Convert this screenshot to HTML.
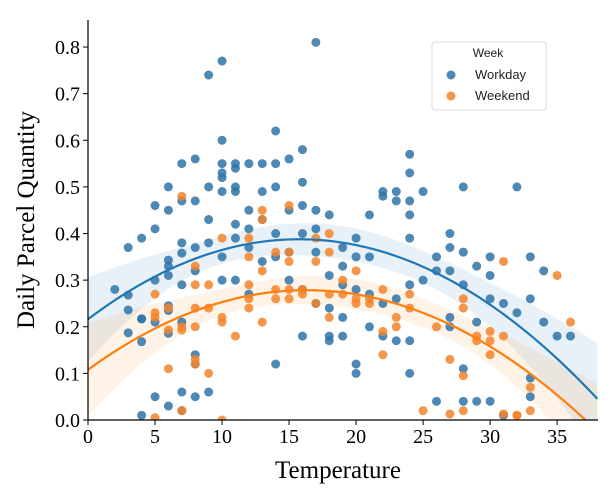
<!DOCTYPE html>
<html><head><meta charset="utf-8"><style>
body{margin:0;background:#fff;}
svg{display:block;}
.serif{font-family:"Liberation Serif",serif;}
.sans{font-family:"Liberation Sans",sans-serif;}
</style></head><body>
<svg id="chart" width="615" height="500" xmlns="http://www.w3.org/2000/svg">
<defs><clipPath id="plotclip"><rect x="88" y="20" width="510" height="400"/></clipPath></defs>
<g id="bands" clip-path="url(#plotclip)"></g>
<g id="points" clip-path="url(#plotclip)"></g>
<g id="lines" clip-path="url(#plotclip)"></g>
<g id="axes"></g>
<g>
<rect x="432" y="42" width="114" height="68" rx="3" fill="#fff" fill-opacity="0.8" stroke="#ddd"/>
<text class="sans" x="488" y="57" font-size="12" text-anchor="middle" fill="#222">Week</text>
<g><circle cx="451" cy="75" r="4.5" fill="#2f74a8" fill-opacity="0.85"/><text class="sans" x="475" y="79" font-size="13" fill="#222">Workday</text></g>
<g><circle cx="451" cy="96" r="4.5" fill="#f5842a" fill-opacity="0.85"/><text class="sans" x="475" y="100" font-size="13" fill="#222">Weekend</text></g>
</g>
</svg>
<script>
const xTicks=[0,5,10,15,20,25,30,35];
const yTicks=[0.0,0.1,0.2,0.3,0.4,0.5,0.6,0.7,0.8];
const workdayTemp=[2,3,3,3,3,4,4,4,4,5,5,5,5,5,4,6,6,6,6,6,6,6,6,6,7,7,7,7,7,7,7,7,8,8,8,8,8,8,8,9,9,9,9,9,10,10,10,10,10,10,10,10,11,11,11,11,11,11,11,12,12,12,12,12,13,13,13,13,14,14,14,14,14,14,15,15,15,15,16,16,16,16,16,16,17,17,17,17,17,18,18,18,18,18,19,19,19,19,19,20,20,20,20,20,21,21,21,21,22,22,22,22,23,23,23,23,24,24,24,24,24,24,24,24,25,25,26,26,26,27,27,27,27,27,28,28,28,28,28,29,29,29,30,30,30,30,31,31,32,32,33,33,33,33,34,34,35,36];
const workdayQty=[0.28,0.37,0.268,0.236,0.187,0.39,0.217,0.217,0.168,0.46,0.41,0.3,0.21,0.05,0.01,0.5,0.45,0.343,0.33,0.31,0.245,0.235,0.186,0.03,0.55,0.47,0.38,0.358,0.29,0.21,0.06,0.02,0.56,0.47,0.37,0.32,0.14,0.12,0.05,0.74,0.5,0.43,0.38,0.06,0.77,0.6,0.55,0.53,0.52,0.49,0.35,0.3,0.55,0.54,0.5,0.49,0.42,0.39,0.3,0.55,0.45,0.41,0.37,0.27,0.55,0.49,0.43,0.34,0.62,0.55,0.5,0.4,0.35,0.12,0.56,0.45,0.36,0.3,0.58,0.51,0.46,0.4,0.28,0.18,0.81,0.45,0.41,0.36,0.25,0.44,0.31,0.24,0.18,0.17,0.37,0.29,0.33,0.22,0.18,0.39,0.35,0.28,0.12,0.1,0.44,0.35,0.27,0.2,0.49,0.48,0.25,0.18,0.49,0.47,0.26,0.17,0.57,0.53,0.47,0.44,0.39,0.29,0.17,0.1,0.49,0.3,0.35,0.32,0.04,0.4,0.37,0.32,0.22,0.2,0.5,0.36,0.29,0.11,0.04,0.33,0.21,0.04,0.35,0.31,0.26,0.04,0.25,0.01,0.5,0.23,0.35,0.26,0.09,0.05,0.32,0.21,0.18,0.18];
const weekendTemp=[5,5,5,5,6,6,6,7,7,7,7,8,8,8,8,8,8,9,9,9,10,10,10,10,11,12,12,12,12,12,13,13,13,13,14,14,14,15,15,15,15,15,16,16,17,17,17,18,18,18,18,19,19,20,20,20,21,21,22,22,22,23,23,24,24,25,26,27,27,28,28,28,28,29,29,30,30,30,31,31,31,32,32,33,33,35,36];
const weekendQty=[0.27,0.23,0.22,0.005,0.24,0.193,0.11,0.48,0.2,0.193,0.02,0.2,0.33,0.24,0.13,0.12,0.29,0.29,0.24,0.1,0.39,0.22,0.21,0.0,0.18,0.39,0.35,0.29,0.26,0.24,0.45,0.43,0.32,0.21,0.36,0.28,0.26,0.46,0.26,0.28,0.34,0.36,0.28,0.27,0.39,0.34,0.25,0.36,0.4,0.27,0.22,0.3,0.27,0.25,0.32,0.26,0.25,0.26,0.19,0.14,0.28,0.2,0.22,0.27,0.24,0.02,0.2,0.13,0.013,0.26,0.24,0.095,0.02,0.18,0.17,0.19,0.17,0.14,0.34,0.18,0.013,0.01,0.01,0.07,0.02,0.31,0.21];

const NS='http://www.w3.org/2000/svg';
const X0=88,X1=598,Y0=420,Y1=20,XMAX=38.05,YMAX=0.858;
const sx=v=>X0+v/XMAX*(X1-X0);
const sy=v=>Y0-v/YMAX*(Y0-Y1);
function mk(t,a,p){const e=document.createElementNS(NS,t);for(const k in a)e.setAttribute(k,a[k]);p.appendChild(e);return e;}

const axes=document.getElementById('axes');
const yl=mk('line',{x1:X0,y1:Y1,x2:X0,y2:Y0,stroke:'#000','stroke-width':1.2},axes);


const xl=mk('line',{x1:X0,y1:Y0,x2:X1,y2:Y0,stroke:'#000','stroke-width':1.2},axes);


xTicks.forEach(t=>{
 mk('line',{x1:sx(t),y1:Y0,x2:sx(t),y2:Y0+5,stroke:'#000'},axes);
 const tx=mk('text',{x:sx(t),y:Y0+23,'text-anchor':'middle','class':'serif','font-size':20},axes);
 tx.textContent=t;
 
 
});
yTicks.forEach(t=>{
 mk('line',{x1:X0-5,y1:sy(t),x2:X0,y2:sy(t),stroke:'#000'},axes);
 const tx=mk('text',{x:X0-8,y:sy(t)+7,'text-anchor':'end','class':'serif','font-size':20},axes);
 tx.textContent=t.toFixed(1);
 
 
});
const xt=mk('text',{x:(X0+X1)/2-5,y:478,'text-anchor':'middle','class':'serif','font-size':25},axes);
xt.textContent='Temperature';


const yt=mk('text',{x:0,y:0,'text-anchor':'middle','class':'serif','font-size':25,transform:'translate(34,220) rotate(-90)'},axes);
yt.textContent='Daily Parcel Quantity';



function fit(xs,ys){
 let S=[[0,0,0],[0,0,0],[0,0,0]],b=[0,0,0];
 for(let i=0;i<xs.length;i++){const r=[1,xs[i],xs[i]*xs[i]];for(let a=0;a<3;a++){b[a]+=r[a]*ys[i];for(let c=0;c<3;c++)S[a][c]+=r[a]*r[c];}}
 const m=S,det=m[0][0]*(m[1][1]*m[2][2]-m[1][2]*m[2][1])-m[0][1]*(m[1][0]*m[2][2]-m[1][2]*m[2][0])+m[0][2]*(m[1][0]*m[2][1]-m[1][1]*m[2][0]);
 const inv=[[ (m[1][1]*m[2][2]-m[1][2]*m[2][1])/det, (m[0][2]*m[2][1]-m[0][1]*m[2][2])/det, (m[0][1]*m[1][2]-m[0][2]*m[1][1])/det],
 [ (m[1][2]*m[2][0]-m[1][0]*m[2][2])/det, (m[0][0]*m[2][2]-m[0][2]*m[2][0])/det, (m[0][2]*m[1][0]-m[0][0]*m[1][2])/det],
 [ (m[1][0]*m[2][1]-m[1][1]*m[2][0])/det, (m[0][1]*m[2][0]-m[0][0]*m[2][1])/det, (m[0][0]*m[1][1]-m[0][1]*m[1][0])/det]];
 const beta=inv.map(row=>row[0]*b[0]+row[1]*b[1]+row[2]*b[2]);
 let rss=0;for(let i=0;i<xs.length;i++){const p=beta[0]+beta[1]*xs[i]+beta[2]*xs[i]*xs[i];rss+=(ys[i]-p)**2;}
 const s2=rss/(xs.length-3);
 return x=>{const r=[1,x,x*x];let v=0;for(let a=0;a<3;a++)for(let c=0;c<3;c++)v+=r[a]*inv[a][c]*r[c];
  return [beta[0]+beta[1]*x+beta[2]*x*x,1.96*Math.sqrt(s2*v)];};
}
const bands=document.getElementById('bands'),lines=document.getElementById('lines'),pts=document.getElementById('points');
function series(xs,ys,col,ptcol,name){
 const f=fit(xs,ys);let up=[],lo=[],ln=[];
 for(let x=0;x<=XMAX;x+=0.25){const [y,e]=f(x);ln.push(sx(x)+','+sy(y));up.push(sx(x)+','+sy(y+e));lo.unshift(sx(x)+','+sy(y-e));}
 const band=mk('polygon',{points:up.concat(lo).join(' '),fill:col,'fill-opacity':0.1},bands);
 
 
 xs.forEach((x,i)=>{
  const c=mk('circle',{cx:sx(x),cy:sy(ys[i]),r:4.5,fill:ptcol,'fill-opacity':0.85},pts);
  
  
 });
 const l=mk('polyline',{points:ln.join(' '),fill:'none',stroke:col,'stroke-width':2.2},lines);
 
 
}
series(workdayTemp,workdayQty,'#1f77b4','#2f74a8','workday');
series(weekendTemp,weekendQty,'#ff7f0e','#f5842a','weekend');
</script>
</body></html>
